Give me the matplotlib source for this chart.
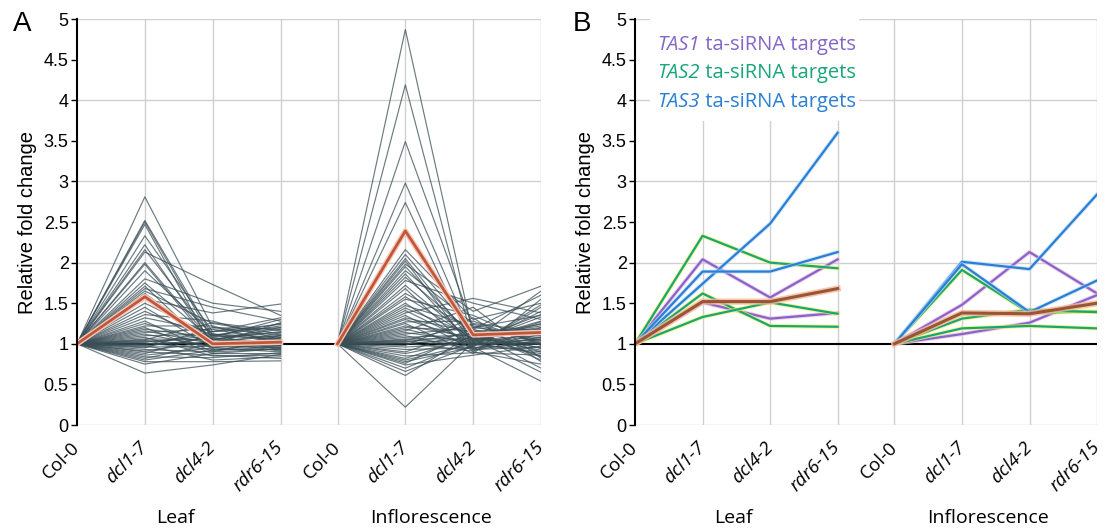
import matplotlib
matplotlib.use("Agg")
import matplotlib.pyplot as plt
import matplotlib.patheffects as pe
from matplotlib.patches import Rectangle

plt.rcParams['font.family'] = ['Liberation Sans', 'DejaVu Sans']

conditions = ['Col-0', 'dcl1-7', 'dcl4-2', 'rdr6-15']
tissues = ['Leaf', 'Inflorescence']
leaf_x = [0, 1, 2, 3]
infl_x = [3.84, 4.84, 5.84, 6.84]

# panel A: all genes, values at dcl1-7 / dcl4-2 / rdr6-15 (Col-0 = 1)
leaf_dcl1 = [2.81, 2.52, 2.50, 2.47, 2.33, 2.22, 2.16, 2.13, 2.00, 1.98, 1.90, 1.80, 1.75, 1.71,
             1.68, 1.65, 1.62, 1.55, 1.50, 1.45, 1.40, 1.36, 1.32, 1.28, 1.25, 1.22, 1.20, 1.18,
             1.16, 1.14, 1.12, 1.10, 1.08, 1.06, 1.05, 1.04, 1.02, 1.01, 1.00, 0.99, 0.98, 0.97,
             0.96, 0.95, 0.93, 0.91, 0.90, 0.88, 0.86, 0.84, 0.82, 0.80, 0.78, 0.75, 0.64, 1.03]
leaf_dcl4 = [1.20, 1.10, 1.05, 0.95, 1.15, 1.00, 1.08, 1.73, 1.02, 0.98, 1.12, 1.50, 1.05, 0.92,
             1.45, 1.25, 1.00, 1.38, 1.10, 0.95, 1.05, 1.28, 1.15, 0.90, 1.02, 1.22, 0.88, 1.08,
             1.00, 1.18, 0.96, 1.12, 0.85, 1.05, 1.26, 0.98, 1.10, 0.93, 1.02, 1.15, 0.80, 1.07,
             0.97, 1.20, 0.90, 1.03, 0.86, 1.12, 0.95, 0.83, 1.00, 0.92, 0.78, 0.88, 0.74, 1.06]
leaf_rdr6 = [1.10, 1.25, 0.95, 1.05, 1.20, 0.98, 1.30, 1.35, 1.00, 1.08, 0.92, 1.40, 1.15, 0.96,
             1.28, 1.12, 1.02, 1.49, 1.22, 0.90, 1.18, 1.05, 1.32, 0.94, 1.10, 1.00, 0.88, 1.14,
             1.26, 1.03, 0.97, 1.08, 0.86, 1.20, 1.16, 0.99, 1.06, 0.93, 1.12, 1.24, 0.84, 1.01,
             0.95, 1.18, 1.07, 0.91, 0.82, 1.04, 1.10, 0.89, 0.98, 1.02, 0.79, 0.94, 0.87, 1.00]

infl_dcl1 = [4.87, 4.19, 3.49, 2.98, 2.74, 2.16, 2.10, 2.05, 2.02, 1.98, 1.95, 1.90, 1.86, 1.82,
             1.78, 1.72, 1.68, 1.62, 1.58, 1.55, 1.50, 1.47, 1.44, 1.41, 1.38, 1.35, 1.32, 1.30,
             1.27, 1.25, 1.22, 1.20, 1.18, 1.16, 1.14, 1.12, 1.10, 1.08, 1.06, 1.05, 1.04, 1.03,
             1.02, 1.01, 1.00, 0.98, 0.96, 0.93, 0.90, 0.88, 0.85, 0.82, 0.80, 0.78, 0.76, 0.74,
             0.70, 0.66, 0.61, 0.22]
infl_dcl4 = [1.10, 1.00, 1.20, 1.05, 0.95, 1.30, 1.15, 1.02, 0.92, 1.40, 1.08, 1.25, 0.98, 1.12,
             1.50, 1.03, 0.90, 1.18, 1.06, 1.35, 0.96, 1.22, 1.10, 1.00, 1.56, 0.94, 1.14, 1.04,
             1.28, 0.88, 1.08, 1.16, 0.99, 1.45, 1.02, 1.20, 0.93, 1.11, 1.06, 1.00, 1.24, 0.97,
             1.13, 0.91, 1.07, 1.32, 1.01, 0.95, 1.18, 1.05, 0.89, 1.09, 1.00, 0.96, 1.15, 0.86,
             1.04, 0.98, 1.12, 1.02]
infl_rdr6 = [1.20, 0.90, 1.35, 1.10, 1.00, 1.50, 0.80, 1.25, 1.05, 1.71, 0.95, 1.15, 1.40, 0.85,
             1.30, 1.08, 0.75, 1.60, 1.18, 0.98, 1.45, 1.02, 1.22, 0.88, 1.38, 1.12, 0.70, 1.28,
             1.00, 1.55, 0.92, 1.16, 1.06, 0.82, 1.33, 1.10, 0.96, 1.24, 0.65, 1.14, 1.04, 1.48,
             0.90, 1.20, 1.00, 0.78, 1.27, 1.08, 0.94, 1.65, 0.86, 1.12, 1.02, 0.54, 1.18, 0.97,
             1.36, 1.06, 0.84, 1.00]

leaf_mean_a = [1.0, 1.58, 1.00, 1.02]
infl_mean_a = [1.0, 2.39, 1.11, 1.14]

# panel B: ta-siRNA targets
tas1_leaf = [[1.0, 2.04, 1.57, 2.04], [1.0, 1.51, 1.31, 1.38]]
tas2_leaf = [[1.0, 2.33, 2.00, 1.93], [1.0, 1.62, 1.22, 1.21], [1.0, 1.33, 1.51, 1.37]]
tas3_leaf = [[1.0, 1.74, 2.48, 3.60], [1.0, 1.89, 1.89, 2.13]]
mean_leaf_b = [1.0, 1.52, 1.52, 1.68]

tas1_infl = [[1.0, 1.48, 2.13, 1.62], [1.0, 1.12, 1.26, 1.60]]
tas2_infl = [[1.0, 1.91, 1.38, 1.40], [1.0, 1.31, 1.42, 1.39], [1.0, 1.19, 1.22, 1.19]]
tas3_infl = [[1.0, 2.01, 1.92, 2.84], [1.0, 1.98, 1.39, 1.78]]
mean_infl_b = [1.0, 1.38, 1.37, 1.50]

legend_labels = ['TAS1', 'TAS2', 'TAS3']
tas_colors = ['#8466c6', '#18a679', '#2a7fd2']
tas_halos = ['#f0b8e8', '#f0f060', '#b8d8f8']


def setup_axes(ax):
    ax.set_xlim(0, infl_x[-1])
    ax.set_ylim(0, 5)
    for s in ['top', 'right', 'bottom']:
        ax.spines[s].set_visible(False)
    ax.spines['left'].set_linewidth(1.5)
    ax.spines['left'].set_zorder(6)
    for v in [0, 2, 3, 4, 5]:
        ax.axhline(v, color='#cfcfcf', lw=1.0, zorder=0)
    for xv in leaf_x[1:] + infl_x:
        ax.axvline(xv, color='#cfcfcf', lw=1.0, zorder=0)
    ax.axhline(1, color='black', lw=1.5, zorder=1)

    ax.set_yticks([i * 0.5 for i in range(11)])
    ax.set_yticklabels(['0', '0.5', '1', '1.5', '2', '2.5', '3', '3.5', '4', '4.5', '5'])
    ax.tick_params(axis='y', direction='out', length=4, width=1, labelsize=13, pad=2)
    ax.set_ylabel('Relative fold change', fontsize=14.5, labelpad=5)

    ax.set_xticks(leaf_x + infl_x)
    ax.set_xticklabels(conditions + conditions, rotation=45, ha='right', va='center',
                       rotation_mode='anchor', fontsize=13.5, family='Open Sans')
    ax.tick_params(axis='x', length=0, pad=14)
    for i, lab in enumerate(ax.get_xticklabels()):
        if i % 4 != 0:
            lab.set_fontstyle('italic')

    ax.text(1.45, -1.14, tissues[0], ha='center', va='center', fontsize=14, family='Open Sans')
    ax.text(5.22, -1.14, tissues[1], ha='center', va='center', fontsize=14, family='Open Sans')


fig = plt.figure(figsize=(11.05, 5.31), dpi=100)
ax_a = fig.add_axes([0.0697, 0.1996, 0.4199, 0.7646])
ax_b = fig.add_axes([0.5747, 0.1996, 0.4181, 0.7646])

# panel A
setup_axes(ax_a)
for i in range(len(leaf_dcl1)):
    ax_a.plot(leaf_x, [1.0, leaf_dcl1[i], leaf_dcl4[i], leaf_rdr6[i]],
              color='#3a4f57', lw=0.85, alpha=0.75, zorder=2)
for i in range(len(infl_dcl1)):
    ax_a.plot(infl_x, [1.0, infl_dcl1[i], infl_dcl4[i], infl_rdr6[i]],
              color='#3a4f57', lw=0.85, alpha=0.75, zorder=2)
red_fx = [pe.Stroke(linewidth=4, foreground='#f6c8b8'), pe.Normal()]
ax_a.plot(leaf_x, leaf_mean_a, color='#c0573a', lw=2, zorder=4, path_effects=red_fx)
ax_a.plot(infl_x, infl_mean_a, color='#c0573a', lw=2, zorder=4, path_effects=red_fx)

# panel B
setup_axes(ax_b)
groups_leaf = [tas1_leaf, tas2_leaf, tas3_leaf]
groups_infl = [tas1_infl, tas2_infl, tas3_infl]
for k in range(3):
    fx = [pe.Stroke(linewidth=3, foreground=tas_halos[k], alpha=0.7), pe.Normal()]
    for line in groups_leaf[k]:
        ax_b.plot(leaf_x, line, color=tas_colors[k], lw=1.6, zorder=3, path_effects=fx)
    for line in groups_infl[k]:
        ax_b.plot(infl_x, line, color=tas_colors[k], lw=1.6, zorder=3, path_effects=fx)
brown_fx = [pe.Stroke(linewidth=4.5, foreground='#f2b89a', alpha=0.8), pe.Normal()]
ax_b.plot(leaf_x, mean_leaf_b, color='#9a5535', lw=2.2, zorder=4, path_effects=brown_fx)
ax_b.plot(infl_x, mean_infl_b, color='#9a5535', lw=2.2, zorder=4, path_effects=brown_fx)

# legend box with mixed italic text
ax_b.add_patch(Rectangle((0.22, 3.74), 3.1, 1.26, facecolor='white', edgecolor='none', zorder=2))
legend_y = [4.68, 4.33, 3.98]
for k in range(3):
    t = ax_b.text(0.33, legend_y[k], legend_labels[k], color=tas_colors[k], fontsize=14.5,
                  fontstyle='italic', va='center', family='Open Sans', zorder=5)
    ax_b.annotate(' ta-siRNA targets', xy=(1, 0.5), xycoords=t, va='center', ha='left',
                  color=tas_colors[k], fontsize=14.5, family='Open Sans', zorder=5)

fig.text(0.012, 0.955, 'A', fontsize=20, va='center', ha='left')
fig.text(0.518, 0.955, 'B', fontsize=20, va='center', ha='left')

fig.savefig('out.png', dpi=100)
